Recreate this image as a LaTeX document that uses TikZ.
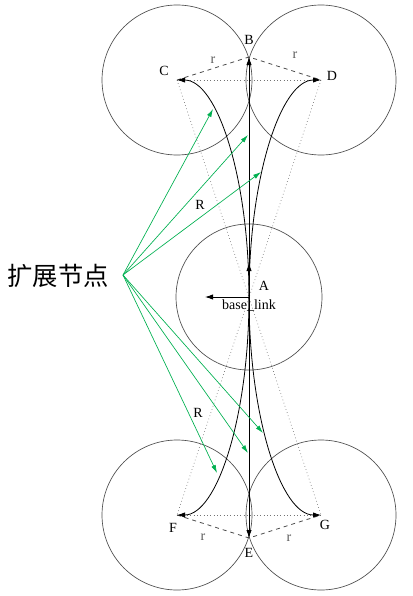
\documentclass[tikz,border=0pt]{standalone}
\usepackage{fontspec}
\setmainfont{Liberation Serif}
\newfontfamily\cjk{Noto Sans CJK SC}
\usepackage{xcolor}
\usetikzlibrary{arrows.meta}
\definecolor{extgreen}{RGB}{0,176,80}
\tikzset{
  ring/.style={draw=black!70, line width=0.5pt},
  guide/.style={draw=black!55, dotted, line width=0.5pt},
  radline/.style={draw=black!70, dashed, line width=0.6pt},
  trajarrow/.style={draw=black, line width=0.6pt, -{Latex[length=6pt,width=4pt]}},
  extarrow/.style={draw=extgreen, line width=0.5pt, -{Latex[length=6pt,width=3.5pt]}},
  lbl/.style={inner sep=0.75pt, font=\fontsize{10.5}{12}\selectfont},
}

\begin{document}
\begin{tikzpicture}[x=0.75pt,y=0.75pt,yscale=-1,xscale=1]
    \useasboundingbox (0,0) rectangle (413,596);

    % points
    \coordinate (A) at (249,297);
    \coordinate (B) at (249,57);
    \coordinate (C) at (177,80);
    \coordinate (D) at (321,80);
    \coordinate (E) at (249,538);
    \coordinate (F) at (177,515);
    \coordinate (G) at (321,515);
    \coordinate (head) at (249,263);
    \coordinate (side) at (205,297);
    \coordinate (P) at (123,275);

    %Shape: Circle
    \draw [ring] (A) circle [radius=73];
    %Shape: Circle
    \draw [ring] (C) circle [radius=75];
    %Shape: Circle
    \draw [ring] (D) circle [radius=75];
    %Shape: Circle
    \draw [ring] (F) circle [radius=75];
    %Shape: Circle
    \draw [ring] (G) circle [radius=75];

    %Dotted Lines
    \draw [guide] (C) -- (D);
    \draw [guide] (F) -- (G);
    \draw [guide] (C) -- (G);
    \draw [guide] (D) -- (F);

    %Dashed Lines
    \draw [radline] (C) -- (B) -- (D);
    \draw [radline] (F) -- (E) -- (G);

    %Curve Lines
    \draw [trajarrow] (A) .. controls +(0,-120) and +(40,0) .. (C);
    \draw [trajarrow] (A) .. controls +(0,-120) and +(-40,0) .. (D);
    \draw [trajarrow] (A) .. controls +(0,120) and +(40,0) .. (F);
    \draw [trajarrow] (A) .. controls +(0,120) and +(-40,0) .. (G);

    %Straight Lines
    \draw [trajarrow] (A) -- (B);
    \draw [trajarrow] (A) -- (E);
    \draw [trajarrow] (A) -- (head);
    \draw [trajarrow] (A) -- (side);

    %Green Arrows
    \coordinate (g1) at (213,109);
    \coordinate (g2) at (248,135);
    \coordinate (g3) at (261,172);
    \coordinate (g4) at (263,433);
    \coordinate (g5) at (248,453);
    \coordinate (g6) at (217,473);
    \draw [extarrow] (P) -- (g1);
    \draw [extarrow] (P) -- (g2);
    \draw [extarrow] (P) -- (g3);
    \draw [extarrow] (P) -- (g4);
    \draw [extarrow] (P) -- (g5);
    \draw [extarrow] (P) -- (g6);

    % Text Node
    \node [lbl] (labA) at (264,286) {A};
    % Text Node
    \node [lbl] (labB) at (249,40) {B};
    % Text Node
    \node [lbl] (labC) at (164,71) {C};
    % Text Node
    \node [lbl] (labD) at (332,76) {D};
    % Text Node
    \node [lbl] (labE) at (249,553) {E};
    % Text Node
    \node [lbl] (labF) at (173,528) {F};
    % Text Node
    \node [lbl] (labG) at (325,525) {G};
    % Text Node
    \node [lbl] (base) at (249,306) {base\_link};
    % Text Node
    \node [lbl, text=black!65] (r1) at (213,60) {r};
    \node [lbl, text=black!65] (r2) at (295,55) {r};
    \node [lbl, text=black!65] (r3) at (203,537) {r};
    \node [lbl, text=black!65] (r4) at (289,538) {r};
    % Text Node
    \node [lbl] (R1) at (200,205) {R};
    \node [lbl] (R2) at (198,413) {R};
    % Text Node
    \node [inner sep=0pt, anchor=east, font=\cjk\fontsize{19}{22}\selectfont] (ext) at (109,276) {扩展节点};

\end{tikzpicture}
\end{document}
